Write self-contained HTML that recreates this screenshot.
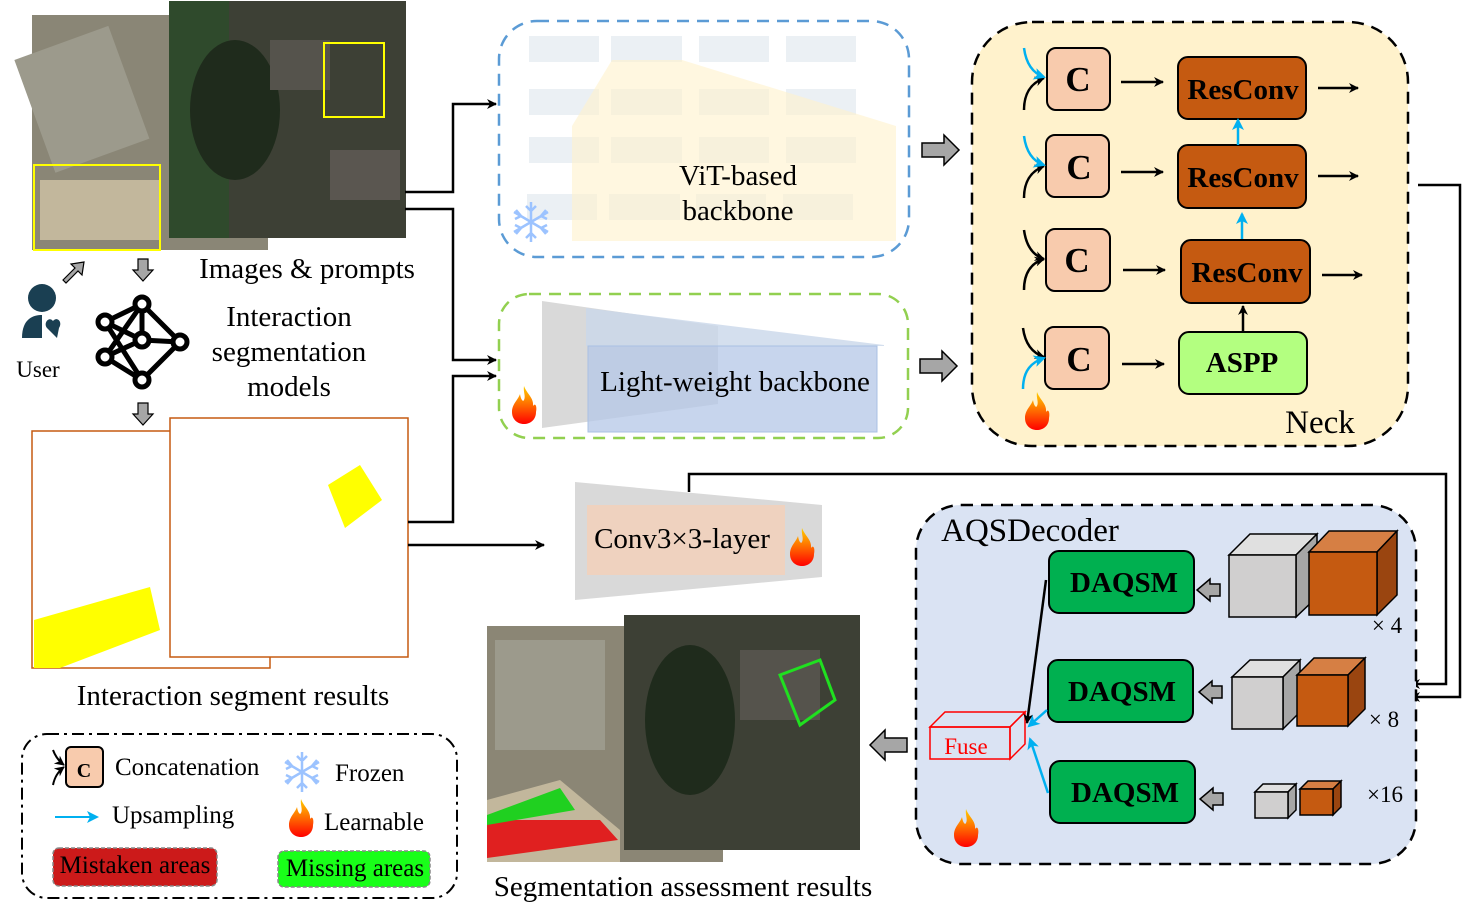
<!DOCTYPE html>
<html><head><meta charset="utf-8"><style>
html,body{margin:0;padding:0;background:#fff;width:1477px;height:922px;overflow:hidden}
svg text{font-family:"Liberation Serif",serif}
</style></head><body>
<svg width="1477" height="922" viewBox="0 0 1477 922" xmlns="http://www.w3.org/2000/svg">
<defs>
<marker id="ab" markerWidth="10" markerHeight="10" refX="9" refY="5" orient="auto" markerUnits="userSpaceOnUse"><path d="M0,0 L10,5 L0,10 L3,5 z" fill="#000"/></marker>
<marker id="abl" markerWidth="12" markerHeight="12" refX="10" refY="6" orient="auto" markerUnits="userSpaceOnUse"><path d="M0,0 L12,6 L0,12 L3,6 z" fill="#00b0f0"/></marker>
<linearGradient id="fire" x1="0" y1="0" x2="0" y2="1"><stop offset="0" stop-color="#ffd000"/><stop offset="0.5" stop-color="#ff6a00"/><stop offset="1" stop-color="#ff0000"/></linearGradient>
<g id="flame"><path d="M0,-22 C3,-14 10,-10 9,-2 C12,-6 13,0 12,4 C12,12 6,16 0,16 C-7,16 -12,11 -12,4 C-12,-4 -6,-8 -4,-14 C-3,-8 -1,-6 0,-8 C2,-12 -1,-16 0,-22z" fill="url(#fire)"/></g>
<g id="snow" stroke="#9cc3ff" stroke-width="2.5" fill="none"><path d="M0,-20 V20 M-17,-10 L17,10 M-17,10 L17,-10 M-5,-16 L0,-11 L5,-16 M-5,16 L0,11 L5,16 M-16,-3 L-10,-6 L-15,-12 M16,3 L10,6 L15,12 M16,-3 L10,-6 L15,-12 M-16,3 L-10,6 L-15,12"/></g>
</defs>

<!-- top images -->
<rect x="32" y="15" width="236" height="235" fill="#8a8676"/>
<rect x="32" y="40" width="100" height="120" fill="#9c9a8c" transform="rotate(-20 80 100)"/>
<rect x="40" y="180" width="120" height="60" fill="#c2b79c"/>
<rect x="34" y="165" width="126" height="85" fill="none" stroke="#ff0" stroke-width="2"/>
<rect x="169" y="1" width="237" height="237" fill="#3d4035"/>
<rect x="169" y="1" width="60" height="237" fill="#2f4a2c"/>
<ellipse cx="235" cy="110" rx="45" ry="70" fill="#1f2b1c"/>
<rect x="270" y="40" width="60" height="50" fill="#55534c"/>
<rect x="330" y="150" width="70" height="50" fill="#5a5650"/>
<rect x="324" y="43" width="60" height="74" fill="none" stroke="#ff0" stroke-width="2"/>

<!-- user / network -->
<circle cx="42" cy="298" r="14" fill="#1a3f52"/>
<path d="M22,338 C22,318 34,315 42,315 V338z" fill="#1a3f52"/>
<path d="M57,338 L47,328 C43,323 49,316 53,321 C57,316 63,322 59,328z" fill="#1a3f52"/>
<text x="38" y="377" font-size="23" text-anchor="middle">User</text>
<path d="M63,280 L75,268 L71,264 L84,262 L82,275 L78,271 L66,283z" fill="#a6a6a6" stroke="#000" stroke-width="1.2"/>
<path d="M138,259 H148 V270 H153 L143,281 L133,270 H138z" fill="#a6a6a6" stroke="#000" stroke-width="1.2"/>
<path d="M138,403 H148 V414 H153 L143,425 L133,414 H138z" fill="#a6a6a6" stroke="#000" stroke-width="1.2"/>
<g stroke="#000" stroke-width="5" fill="none">
<path d="M105,322 L142,304 L180,342 L142,380 L105,357 L142,340 L180,342 M105,322 L142,340 M105,322 L142,380 M105,357 L142,304 M142,304 L142,340 M105,357 L142,380"/>
</g>
<g fill="#fff" stroke="#000" stroke-width="5"><circle cx="105" cy="322" r="7"/><circle cx="142" cy="304" r="7"/><circle cx="142" cy="340" r="7"/><circle cx="105" cy="357" r="7"/><circle cx="180" cy="342" r="7"/><circle cx="142" cy="380" r="7"/></g>
<text x="307" y="278" font-size="29" text-anchor="middle">Images &amp; prompts</text>
<text x="289" y="326" font-size="29" text-anchor="middle">Interaction</text>
<text x="289" y="361" font-size="29" text-anchor="middle">segmentation</text>
<text x="289" y="396" font-size="29" text-anchor="middle">models</text>

<!-- masks -->
<rect x="32" y="431" width="238" height="237" fill="#fff" stroke="#c55a11" stroke-width="1.5"/>
<path d="M34,620 L150,587 L160,630 L60,668 L34,668z" fill="#ff0"/>
<rect x="170" y="418" width="238" height="239" fill="#fff" stroke="#c55a11" stroke-width="1.5"/>
<path d="M328,485 L360,465 L382,500 L345,528z" fill="#ff0"/>
<text x="233" y="705" font-size="29" text-anchor="middle">Interaction segment results</text>

<!-- connectors left -->
<g stroke="#000" stroke-width="2.5" fill="none">
<path d="M405,192 H453 V104 H496" marker-end="url(#ab)"/>
<path d="M405,209 H453 V360 H496" marker-end="url(#ab)"/>
<path d="M408,522 H453 V376 H496" marker-end="url(#ab)"/>
<path d="M408,545 H544" marker-end="url(#ab)"/>
</g>

<!-- ViT box -->
<rect x="499" y="21" width="410" height="236" rx="38" fill="#fff" stroke="#5b9bd5" stroke-width="2.5" stroke-dasharray="12,8"/>
<g fill="#ebf0f4">
<rect x="529" y="36" width="70" height="26"/><rect x="611" y="36" width="71" height="26"/><rect x="699" y="36" width="70" height="26"/><rect x="786" y="36" width="70" height="26"/>
<rect x="529" y="89" width="70" height="26"/><rect x="611" y="89" width="71" height="26"/><rect x="699" y="89" width="70" height="26"/><rect x="786" y="89" width="70" height="26"/>
<rect x="529" y="137" width="70" height="26"/><rect x="611" y="137" width="71" height="26"/><rect x="699" y="137" width="70" height="26"/><rect x="786" y="137" width="70" height="26"/>
<rect x="527" y="194" width="70" height="26"/><rect x="609" y="194" width="71" height="26"/><rect x="696" y="194" width="70" height="26"/><rect x="783" y="194" width="70" height="26"/>
</g>
<path d="M612,60 L682,60 L896,126 L896,241 L572,241 L572,126z" fill="#fff2cc" fill-opacity="0.6"/>
<use href="#snow" x="531" y="222"/>
<text x="738" y="185" font-size="29" text-anchor="middle">ViT-based</text>
<text x="738" y="220" font-size="29" text-anchor="middle">backbone</text>

<!-- Light-weight box -->
<rect x="499" y="294" width="409" height="144" rx="30" fill="#fff" stroke="#92d050" stroke-width="2.5" stroke-dasharray="12,8"/>
<path d="M542,301 L718,326 L718,404 L542,428z" fill="#d9d9d9"/>
<path d="M586,308 L884,345 L884,346 L586,346z" fill="#c9d7ea" fill-opacity="0.8"/>
<rect x="588" y="346" width="289" height="86" fill="#b4c7e7" fill-opacity="0.75" stroke="#a9c0e3"/>
<use href="#flame" x="524" y="408"/>
<text x="735" y="391" font-size="29" text-anchor="middle">Light-weight backbone</text>

<!-- gray block arrows -->
<path d="M922,143 H944 V135 L959,150 L944,165 V157 H922z" fill="#a6a6a6" stroke="#000" stroke-width="1.5"/>
<path d="M920,359 H942 V351 L957,366 L942,381 V373 H920z" fill="#a6a6a6" stroke="#000" stroke-width="1.5"/>
<path d="M907,738 H885 V730 L870,745 L885,760 V752 H907z" fill="#a6a6a6" stroke="#000" stroke-width="1.5"/>

<!-- Neck -->
<rect x="972" y="22" width="436" height="424" rx="60" fill="#fff2cc" stroke="#000" stroke-width="2.5" stroke-dasharray="12,8"/>
<g fill="#f8cbad" stroke="#000" stroke-width="2">
<rect x="1047" y="48" width="63" height="62" rx="9"/>
<rect x="1046" y="135" width="63" height="62" rx="9"/>
<rect x="1046" y="229" width="64" height="62" rx="9"/>
<rect x="1045" y="327" width="64" height="62" rx="9"/>
</g>
<g font-size="35" font-weight="bold" text-anchor="middle">
<text x="1078" y="91">C</text><text x="1079" y="179">C</text><text x="1077" y="272">C</text><text x="1079" y="371">C</text>
</g>
<g fill="#c55a11" stroke="#000" stroke-width="2">
<rect x="1178" y="57" width="128" height="62" rx="10"/>
<rect x="1178" y="145" width="128" height="63" rx="10"/>
<rect x="1181" y="240" width="129" height="63" rx="10"/>
</g>
<rect x="1179" y="332" width="128" height="62" rx="10" fill="#b3ff80" stroke="#000" stroke-width="2"/>
<g font-size="29" font-weight="bold" text-anchor="middle">
<text x="1243" y="99">ResConv</text><text x="1243" y="187">ResConv</text><text x="1247" y="282">ResConv</text><text x="1242" y="372">ASPP</text>
</g>
<g stroke="#000" stroke-width="2.5" fill="none">
<path d="M1121,82 H1163" marker-end="url(#ab)"/><path d="M1121,172 H1163" marker-end="url(#ab)"/>
<path d="M1123,270 H1165" marker-end="url(#ab)"/><path d="M1122,364 H1164" marker-end="url(#ab)"/>
<path d="M1318,88 H1358" marker-end="url(#ab)"/><path d="M1318,176 H1358" marker-end="url(#ab)"/><path d="M1322,275 H1362" marker-end="url(#ab)"/>
<path d="M1243,331 V306" marker-end="url(#ab)"/>
<path d="M1024,110 C1024,90 1034,82 1044,78" marker-end="url(#ab)"/>
<path d="M1024,198 C1024,178 1034,170 1044,166" marker-end="url(#ab)"/>
<path d="M1024,290 C1024,270 1034,262 1044,259" marker-end="url(#ab)"/>
<path d="M1024,230 C1026,245 1032,255 1044,259" marker-end="url(#ab)"/>
<path d="M1023,328 C1025,343 1032,353 1044,357" marker-end="url(#ab)"/>
</g>
<g stroke="#00b0f0" stroke-width="2.5" fill="none">
<path d="M1238,145 V120" marker-end="url(#abl)"/><path d="M1242,239 V214" marker-end="url(#abl)"/>
<path d="M1024,48 C1026,63 1032,73 1044,77" marker-end="url(#abl)"/>
<path d="M1024,136 C1026,151 1032,161 1044,165" marker-end="url(#abl)"/>
<path d="M1023,389 C1023,370 1032,362 1044,358" marker-end="url(#abl)"/>
</g>
<use href="#flame" x="1037" y="414"/>
<text x="1320" y="433" font-size="33" text-anchor="middle">Neck</text>

<!-- Conv3x3 -->
<path d="M575,482 L822,505 L822,577 L575,600z" fill="#d9d9d9"/>
<rect x="587" y="505" width="198" height="70" fill="#f4d0b8" fill-opacity="0.8"/>
<text x="682" y="548" font-size="29" text-anchor="middle">Conv3×3-layer</text>
<use href="#flame" x="802" y="550"/>

<!-- long connectors -->
<g stroke="#000" stroke-width="2.5" fill="none">
<path d="M1418,185 H1460 V697 H1411" marker-end="url(#ab)"/>
<path d="M689,492 V474 H1446 V684 H1411" marker-end="url(#ab)"/>
</g>

<!-- AQSDecoder -->
<rect x="916" y="505" width="500" height="359" rx="45" fill="#dae3f3" stroke="#000" stroke-width="2.5" stroke-dasharray="12,8"/>
<text x="1030" y="541" font-size="33" text-anchor="middle">AQSDecoder</text>
<g fill="#00b050" stroke="#000" stroke-width="2">
<rect x="1049" y="551" width="145" height="62" rx="10"/>
<rect x="1048" y="660" width="145" height="62" rx="10"/>
<rect x="1050" y="761" width="145" height="62" rx="10"/>
</g>
<g font-size="29" font-weight="bold" text-anchor="middle">
<text x="1124" y="592">DAQSM</text><text x="1122" y="701">DAQSM</text><text x="1125" y="802">DAQSM</text>
</g>
<path d="M1220,584 H1210 V579 L1197,590 L1210,601 V596 H1220z" fill="#a6a6a6" stroke="#000" stroke-width="1.5"/>
<path d="M1222,686 H1212 V681 L1199,692 L1212,703 V698 H1222z" fill="#a6a6a6" stroke="#000" stroke-width="1.5"/>
<path d="M1223,793 H1213 V788 L1200,799 L1213,810 V805 H1223z" fill="#a6a6a6" stroke="#000" stroke-width="1.5"/>
<!-- cubes -->
<g stroke="#000" stroke-width="1.5">
<path d="M1229,555 L1250,534 L1317,534 L1296,555z" fill="#e0e0e0"/><path d="M1296,555 L1317,534 L1317,597 L1296,617z" fill="#a6a6a6"/><rect x="1229" y="555" width="67" height="62" fill="#d0cfcf"/>
<path d="M1309,552 L1329,531 L1397,531 L1377,552z" fill="#d67f44"/><path d="M1377,552 L1397,531 L1397,595 L1377,615z" fill="#9a4510"/><rect x="1309" y="552" width="68" height="63" fill="#c55a11"/>
<path d="M1232,677 L1250,660 L1300,660 L1283,677z" fill="#e0e0e0"/><path d="M1283,677 L1300,660 L1300,712 L1283,729z" fill="#a6a6a6"/><rect x="1232" y="677" width="51" height="52" fill="#d0cfcf"/>
<path d="M1297,675 L1314,658 L1365,658 L1348,675z" fill="#d67f44"/><path d="M1348,675 L1365,658 L1365,709 L1348,726z" fill="#9a4510"/><rect x="1297" y="675" width="51" height="51" fill="#c55a11"/>
<path d="M1255,792 L1263,784 L1296,784 L1288,792z" fill="#e0e0e0"/><path d="M1288,792 L1296,784 L1296,810 L1288,818z" fill="#a6a6a6"/><rect x="1255" y="792" width="33" height="26" fill="#d0cfcf"/>
<path d="M1300,789 L1308,781 L1341,781 L1333,789z" fill="#d67f44"/><path d="M1333,789 L1341,781 L1341,807 L1333,815z" fill="#9a4510"/><rect x="1300" y="789" width="33" height="26" fill="#c55a11"/>
</g>
<g font-size="23" text-anchor="middle"><text x="1387" y="633">× 4</text><text x="1384" y="727">× 8</text><text x="1385" y="802">×16</text></g>
<!-- Fuse -->
<g stroke="#f00" stroke-width="1.5" fill="none">
<path d="M930,727 L945,712 L1025,712 L1010,727z"/><path d="M1010,727 L1025,712 L1025,744 L1010,759z"/><rect x="930" y="727" width="80" height="32"/>
</g>
<text x="966" y="754" font-size="23" fill="#f00" text-anchor="middle">Fuse</text>
<path d="M1046,580 L1027,723" stroke="#000" stroke-width="2.5" fill="none" marker-end="url(#ab)"/>
<path d="M1047,710 L1029,726" stroke="#00b0f0" stroke-width="2.5" fill="none" marker-end="url(#abl)"/>
<path d="M1048,793 L1030,739" stroke="#00b0f0" stroke-width="2.5" fill="none" marker-end="url(#abl)"/>
<use href="#flame" x="966" y="831"/>

<!-- assessment images -->
<rect x="487" y="626" width="236" height="236" fill="#8b8675"/>
<rect x="495" y="640" width="110" height="110" fill="#9c9a8c"/>
<path d="M487,800 L560,780 L620,830 L620,862 L487,862z" fill="#c2b79c"/>
<path d="M487,820 L600,820 L618,840 L487,858z" fill="#e02020"/>
<path d="M487,815 L560,788 L575,810 L487,825z" fill="#20d020"/>
<rect x="624" y="615" width="236" height="235" fill="#3d4035"/>
<ellipse cx="690" cy="720" rx="45" ry="75" fill="#1f2b1c"/>
<rect x="740" y="650" width="80" height="70" fill="#55534c"/>
<path d="M780,675 L820,660 L835,700 L800,725z" fill="none" stroke="#20e020" stroke-width="3"/>
<text x="683" y="896" font-size="29" text-anchor="middle">Segmentation assessment results</text>

<!-- Legend -->
<rect x="22" y="734" width="435" height="164" rx="25" fill="#fff" stroke="#000" stroke-width="2" stroke-dasharray="12,5,3,5"/>
<rect x="66" y="747" width="37" height="40" rx="5" fill="#f8cbad" stroke="#000" stroke-width="2"/>
<text x="84" y="777" font-size="20" font-weight="bold" text-anchor="middle">C</text>
<path d="M53,750 C56,758 60,762 64,765" stroke="#000" stroke-width="2" fill="none" marker-end="url(#ab)"/>
<path d="M53,785 C55,775 60,770 64,767" stroke="#000" stroke-width="2" fill="none" marker-end="url(#ab)"/>
<text x="115" y="775" font-size="25">Concatenation</text>
<use href="#snow" x="302" y="772"/>
<text x="335" y="781" font-size="25">Frozen</text>
<path d="M55,817 H97" stroke="#00b0f0" stroke-width="2" marker-end="url(#abl)"/>
<text x="112" y="823" font-size="25">Upsampling</text>
<use href="#flame" x="301" y="821"/>
<text x="324" y="830" font-size="25">Learnable</text>
<rect x="53" y="848" width="164" height="38" rx="6" fill="#cc1a1a" stroke="#888" stroke-width="1.5" stroke-dasharray="4,2"/>
<text x="135" y="873" font-size="25" text-anchor="middle">Mistaken areas</text>
<rect x="278" y="851" width="152" height="36" rx="6" fill="#19ff19" stroke="#888" stroke-width="1.5" stroke-dasharray="4,2"/>
<text x="355" y="876" font-size="25" text-anchor="middle">Missing areas</text>
</svg>
</body></html>
